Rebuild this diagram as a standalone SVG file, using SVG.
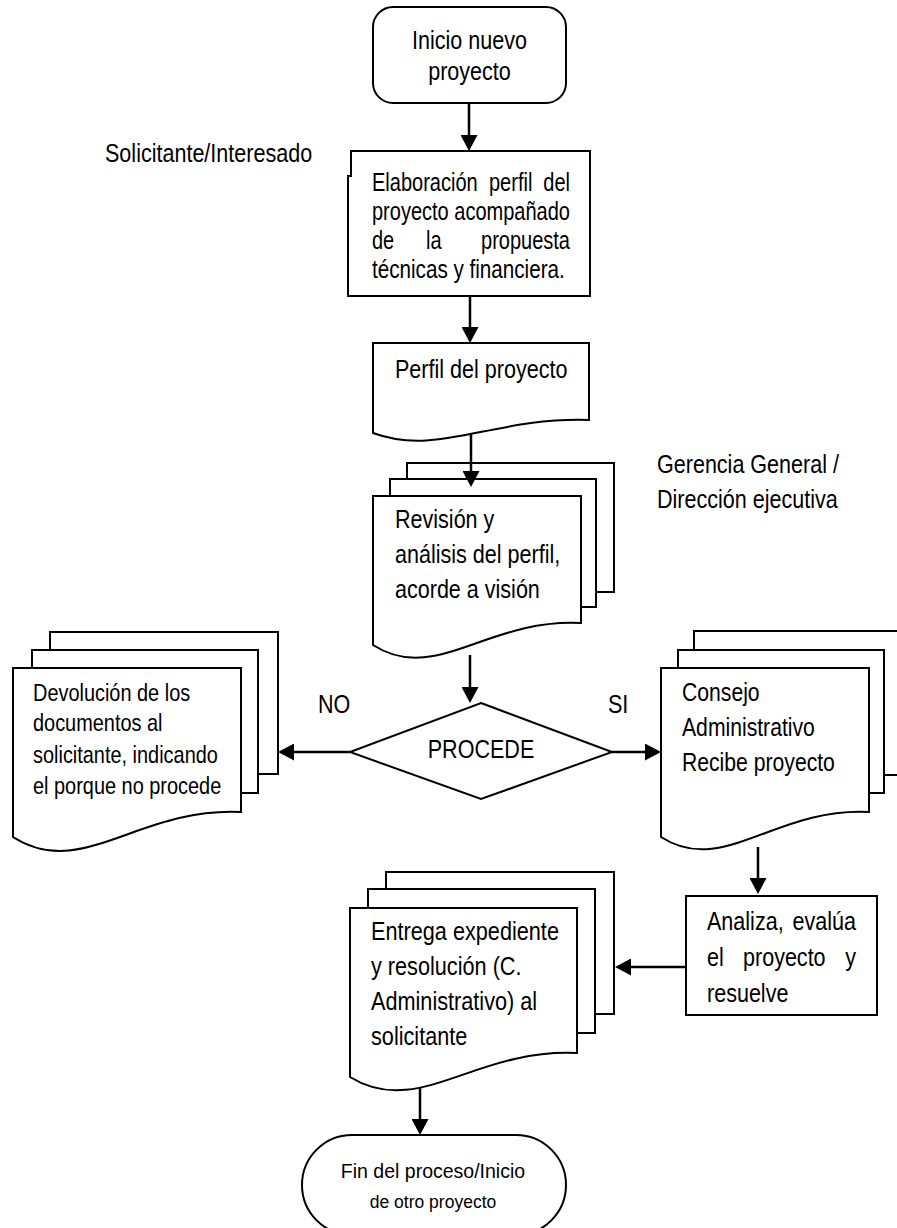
<svg xmlns="http://www.w3.org/2000/svg" width="897" height="1228" viewBox="0 0 897 1228">
<style>
.s{fill:#fff;stroke:#000;stroke-width:2}
.t{font-family:"Liberation Sans",Arial,sans-serif;font-size:25.5px;fill:#000}
.ts{font-family:"Liberation Sans",Arial,sans-serif;font-size:24px;fill:#000}
.tf{font-family:"Liberation Sans",Arial,sans-serif;fill:#000}
.c{fill:none;stroke:#000;stroke-width:2.5}
.m{text-anchor:middle}
.e{text-anchor:end}
</style>
<defs>
<marker id="ah" markerWidth="17" markerHeight="17" refX="6" refY="8.5" orient="auto" markerUnits="userSpaceOnUse">
<path d="M0,0 L16,8.5 L0,17 Z" fill="#000"/>
</marker>
</defs>
<rect width="897" height="1228" fill="#fff"/>

<g id="inicio">
<rect class="s" x="373" y="7" width="193" height="96" rx="20"/>
<text class="t m" transform="translate(469.5,49) scale(0.845,1)">Inicio nuevo</text>
<text class="t m" transform="translate(469.5,80) scale(0.845,1)">proyecto</text>
</g>

<g id="lbl-solicitante">
<text class="t" transform="translate(105,162) scale(0.845,1)">Solicitante/Interesado</text>
</g>

<g id="elaboracion">
<path class="s" d="M351,176 V151 H590 V296 H348 V176 Z"/>
<text class="t" transform="translate(372,191) scale(0.785,1)">Elaboración</text>
<text class="t" transform="translate(489,191) scale(0.785,1)">perfil</text>
<text class="t e" transform="translate(570,191) scale(0.785,1)">del</text>
<text class="t" transform="translate(372,220) scale(0.785,1)">proyecto</text>
<text class="t e" transform="translate(570,220) scale(0.785,1)">acompañado</text>
<text class="t" transform="translate(372,249) scale(0.785,1)">de</text>
<text class="t" transform="translate(426,249) scale(0.785,1)">la</text>
<text class="t e" transform="translate(570,249) scale(0.785,1)">propuesta</text>
<text class="t" transform="translate(372,278) scale(0.81,1)">técnicas y financiera.</text>
</g>

<g id="perfil">
<path class="s" d="M373,343 H589 V420 C492,417 438,457 373,433 Z"/>
<text class="t" transform="translate(395,378) scale(0.845,1)">Perfil del proyecto</text>
</g>

<g id="revision">
<rect class="s" x="407" y="463" width="207" height="129"/>
<rect class="s" x="390" y="479" width="206" height="128"/>
<path class="s" d="M373,496 H581 V623 C487,618 435,685 373,645 Z"/>
<text class="t" transform="translate(395,528) scale(0.845,1)">Revisión y</text>
<text class="t" transform="translate(395,563) scale(0.845,1)">análisis del perfil,</text>
<text class="t" transform="translate(395,598) scale(0.845,1)">acorde a visión</text>
</g>

<g id="lbl-gerencia">
<text class="t" transform="translate(657,473) scale(0.845,1)">Gerencia General /</text>
<text class="t" transform="translate(657,508) scale(0.845,1)">Dirección ejecutiva</text>
</g>

<g id="devolucion">
<rect class="s" x="50" y="632" width="228" height="142"/>
<rect class="s" x="32" y="650" width="226" height="143"/>
<path class="s" d="M13,668 H241 V812 C138,807 81,881 13,837 Z"/>
<text class="ts" transform="translate(33,701) scale(0.83,1)">Devolución de los</text>
<text class="ts" transform="translate(33,731) scale(0.83,1)">documentos al</text>
<text class="ts" transform="translate(33,763) scale(0.83,1)">solicitante, indicando</text>
<text class="ts" transform="translate(33,794) scale(0.83,1)">el porque no procede</text>
</g>

<g id="procede">
<polygon class="s" points="481,703 612,752 481,799 350,752"/>
<text class="t m" transform="translate(481,758) scale(0.845,1)">PROCEDE</text>
</g>

<g id="consejo">
<rect class="s" x="694" y="631" width="220" height="144"/>
<rect class="s" x="678" y="650" width="206" height="143"/>
<path class="s" d="M661,668 H869 V812 C775,807 723,877 661,837 Z"/>
<text class="t" transform="translate(682,701) scale(0.83,1)">Consejo</text>
<text class="t" transform="translate(682,736) scale(0.83,1)">Administrativo</text>
<text class="t" transform="translate(682,771) scale(0.83,1)">Recibe proyecto</text>
</g>

<g id="analiza">
<rect class="s" x="686" y="896" width="191" height="119"/>
<text class="t" transform="translate(707,930) scale(0.845,1)">Analiza,</text>
<text class="t e" transform="translate(856,930) scale(0.845,1)">evalúa</text>
<text class="t" transform="translate(707,966) scale(0.845,1)">el</text>
<text class="t" transform="translate(743,966) scale(0.845,1)">proyecto</text>
<text class="t e" transform="translate(856,966) scale(0.845,1)">y</text>
<text class="t" transform="translate(707,1002) scale(0.845,1)">resuelve</text>
</g>

<g id="entrega">
<rect class="s" x="386" y="872" width="228" height="142"/>
<rect class="s" x="368" y="889" width="227" height="144"/>
<path class="s" d="M350,908 H577 V1053 C475,1048 418,1119 350,1077 Z"/>
<text class="t" transform="translate(371,940) scale(0.85,1)">Entrega expediente</text>
<text class="t" transform="translate(371,975) scale(0.85,1)">y resolución (C.</text>
<text class="t" transform="translate(371,1010) scale(0.85,1)">Administrativo) al</text>
<text class="t" transform="translate(371,1045) scale(0.85,1)">solicitante</text>
</g>

<g id="fin">
<rect class="s" x="302" y="1135" width="264" height="100" rx="50"/>
<text class="tf m" font-size="19.5" x="433" y="1178">Fin del proceso/Inicio</text>
<text class="tf m" font-size="17.5" x="433" y="1208">de otro proyecto</text>
</g>

<g id="lbl-no-si">
<text class="t" transform="translate(318,713) scale(0.845,1)">NO</text>
<text class="t" transform="translate(608,713) scale(0.845,1)">SI</text>
</g>

<g id="connectors">
<path class="c" d="M469,103 V141" marker-end="url(#ah)"/>
<path class="c" d="M470,296 V333" marker-end="url(#ah)"/>
<path class="c" d="M471,434 V477" marker-end="url(#ah)"/>
<path class="c" d="M470,655 V693" marker-end="url(#ah)"/>
<path class="c" d="M350,752 H288" marker-end="url(#ah)"/>
<path class="c" d="M612,752 H651" marker-end="url(#ah)"/>
<path class="c" d="M758,847 V884" marker-end="url(#ah)"/>
<path class="c" d="M686,967 H625" marker-end="url(#ah)"/>
<path class="c" d="M420,1088 V1125" marker-end="url(#ah)"/>
</g>
</svg>
